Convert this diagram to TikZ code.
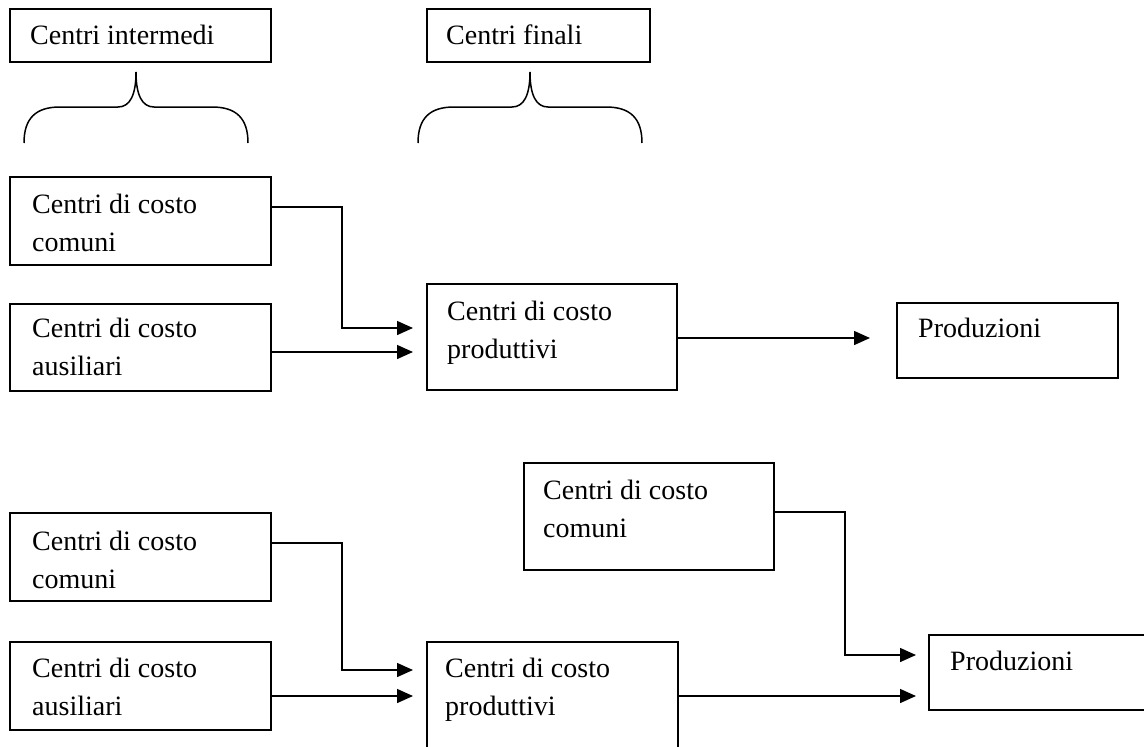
\documentclass[tikz,border=0pt]{standalone}
\usepackage{fontspec}
\setmainfont{Liberation Serif}
\usetikzlibrary{arrows.meta}
\begin{document}
\begin{tikzpicture}[x=1pt,y=-1pt,
  box/.style={draw, line width=1.6pt, rectangle, inner sep=0pt, anchor=north west},
  txt/.style={inner sep=0pt, anchor=north west, align=left, font=\fontsize{28}{37.5}\selectfont},
  arr/.style={line width=1.5pt, -{Triangle[length=16pt,width=14pt]}},
  bracepath/.style={line width=1.5pt}]
\clip (0,0) rectangle (1144,747);
% header boxes
\node[box, minimum width=261pt, minimum height=53pt] (inter) at (9,8) {};
\node[txt] (intert) at (30,25) {Centri intermedi};
\node[box, minimum width=223pt, minimum height=53pt] (finali) at (426,8) {};
\node[txt] (finalit) at (446,25) {Centri finali};
% braces
\draw[bracepath] (24,143) .. controls (24,118) and (36,107) .. (60,107) -- (118,107)
  .. controls (130,107) and (136,95) .. (136,72)
  .. controls (136,95) and (142,107) .. (154,107) -- (212,107)
  .. controls (236,107) and (248,118) .. (248,143);
\draw[bracepath] (418,143) .. controls (418,118) and (430,107) .. (454,107) -- (512,107)
  .. controls (524,107) and (530,95) .. (530,72)
  .. controls (530,95) and (536,107) .. (548,107) -- (606,107)
  .. controls (630,107) and (642,118) .. (642,143);
% upper scheme
\node[box, minimum width=261pt, minimum height=88pt] (c1) at (9,176) {};
\node[txt] (c1t) at (32,194) {Centri di costo\\comuni};
\node[box, minimum width=261pt, minimum height=87pt] (a1) at (9,303) {};
\node[txt] (a1t) at (32,318) {Centri di costo\\ausiliari};
\node[box, minimum width=250pt, minimum height=106pt] (p1) at (426,283) {};
\node[txt] (p1t) at (447,301) {Centri di costo\\produttivi};
\node[box, minimum width=221pt, minimum height=75pt] (prod1) at (896,302) {};
\node[txt] (prod1t) at (918,318) {Produzioni};
\draw[arr, shorten >=13pt] (c1.east |- 0,207) -| (342,328) -- (p1.west |- 0,328);
\draw[arr, shorten >=13pt] (a1.east |- 0,352) -- (p1.west |- 0,352);
\draw[arr, shorten >=26pt] (p1.east |- 0,338) -- (prod1.west |- 0,338);
% lower scheme
\node[box, minimum width=261pt, minimum height=88pt] (c2) at (9,512) {};
\node[txt] (c2t) at (32,531) {Centri di costo\\comuni};
\node[box, minimum width=261pt, minimum height=88pt] (a2) at (9,641) {};
\node[txt] (a2t) at (32,658) {Centri di costo\\ausiliari};
\node[box, minimum width=251pt, minimum height=130pt] (p2) at (426,641) {};
\node[txt] (p2t) at (445,658) {Centri di costo\\produttivi};
\node[box, minimum width=250pt, minimum height=107pt] (cc2) at (523,462) {};
\node[txt] (cc2t) at (543,480) {Centri di costo\\comuni};
\node[box, minimum width=240pt, minimum height=75pt] (prod2) at (928,634) {};
\node[txt] (prod2t) at (950,651) {Produzioni};
\draw[arr, shorten >=13pt] (c2.east |- 0,543) -| (342,670) -- (p2.west |- 0,670);
\draw[arr, shorten >=13pt] (a2.east |- 0,696) -- (p2.west |- 0,696);
\draw[arr, shorten >=12pt] (cc2.east |- 0,512) -| (845,655) -- (prod2.west |- 0,655);
\draw[arr, shorten >=12pt] (p2.east |- 0,696) -- (prod2.west |- 0,696);
\end{tikzpicture}
\end{document}
